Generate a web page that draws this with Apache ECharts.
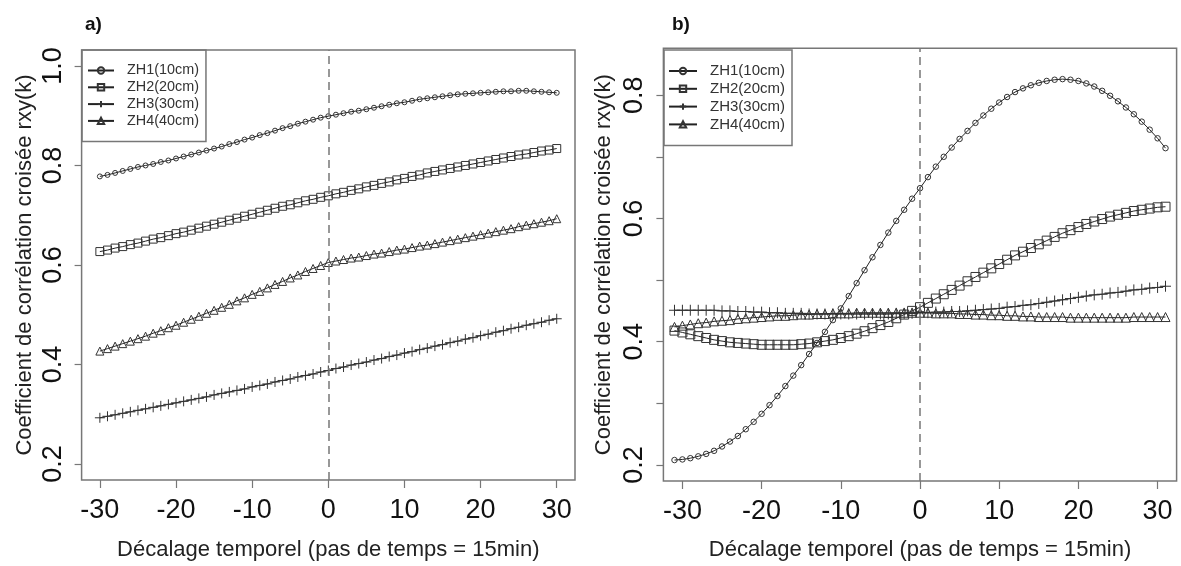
<!DOCTYPE html>
<html>
<head>
<meta charset="utf-8">
<script src="https://cdn.jsdelivr.net/npm/echarts@6/dist/echarts.min.js"></script>
<style>
  html, body { margin: 0; padding: 0; background: #fff; }
  #box { width: 1181px; height: 566px; }
</style>
</head>
<body>
<div id="box"></div>
<script>
// lags (pas de temps de 15 min)
var lagsA = [];
for (var i = -30; i <= 30; i++) lagsA.push(i);
var lagsB = [];
for (var j = -31; j <= 31; j++) lagsB.push(j);

var names = ['ZH1(10cm)', 'ZH2(20cm)', 'ZH3(30cm)', 'ZH4(40cm)'];

// panel a) : k = -30 .. 30
var zh1a = [0.778,0.781,0.785,0.789,0.793,0.797,0.800,0.803,0.807,0.810,0.814,0.818,0.822,0.826,0.830,0.834,0.838,0.843,0.847,0.852,0.856,0.861,0.865,0.870,0.875,0.879,0.884,0.888,0.892,0.896,0.899,
            0.902,0.905,0.908,0.910,0.913,0.916,0.919,0.922,0.925,0.927,0.930,0.933,0.935,0.937,0.939,0.941,0.943,0.944,0.945,0.946,0.947,0.948,0.949,0.949,0.950,0.950,0.949,0.948,0.947,0.946];
var zh2a = [0.627,0.630,0.634,0.637,0.641,0.644,0.648,0.652,0.655,0.659,0.663,0.666,0.670,0.674,0.678,0.682,0.686,0.690,0.694,0.698,0.702,0.706,0.710,0.714,0.718,0.721,0.725,0.729,0.732,0.736,0.739,
            0.743,0.746,0.750,0.753,0.757,0.760,0.764,0.767,0.771,0.774,0.778,0.781,0.785,0.788,0.791,0.794,0.797,0.800,0.803,0.806,0.809,0.812,0.815,0.818,0.821,0.823,0.826,0.829,0.831,0.834];
var zh3a = [0.293,0.296,0.299,0.302,0.305,0.308,0.311,0.314,0.317,0.320,0.323,0.326,0.329,0.332,0.335,0.339,0.342,0.345,0.348,0.351,0.355,0.358,0.361,0.365,0.368,0.371,0.375,0.378,0.381,0.385,0.388,
            0.392,0.395,0.399,0.402,0.405,0.409,0.412,0.416,0.419,0.423,0.426,0.430,0.433,0.437,0.440,0.444,0.447,0.451,0.454,0.458,0.461,0.465,0.468,0.472,0.475,0.479,0.482,0.485,0.489,0.492];
var zh4a = [0.427,0.432,0.437,0.442,0.447,0.452,0.457,0.463,0.468,0.474,0.479,0.485,0.491,0.497,0.503,0.509,0.515,0.521,0.528,0.534,0.541,0.547,0.554,0.561,0.567,0.574,0.580,0.587,0.593,0.599,0.605,
            0.608,0.611,0.614,0.616,0.619,0.622,0.624,0.627,0.630,0.632,0.635,0.638,0.640,0.643,0.646,0.649,0.652,0.655,0.658,0.661,0.664,0.667,0.670,0.673,0.677,0.680,0.683,0.686,0.689,0.693];

// panel b) : k = -31 .. 31
var zh1b = [0.208,0.209,0.211,0.214,0.218,0.223,0.230,0.238,0.247,0.258,0.270,0.283,0.297,0.312,0.328,0.345,0.362,0.380,0.398,0.416,0.435,0.454,0.474,0.495,0.516,0.537,0.557,0.577,0.596,0.614,0.632,0.649,
            0.667,0.684,0.700,0.715,0.729,0.742,0.755,0.767,0.778,0.788,0.797,0.805,0.811,0.816,0.820,0.823,0.825,0.826,0.825,0.823,0.819,0.814,0.807,0.799,0.790,0.780,0.769,0.757,0.744,0.730,0.714];
var zh2b = [0.418,0.415,0.412,0.409,0.406,0.403,0.401,0.399,0.398,0.397,0.396,0.395,0.395,0.395,0.395,0.395,0.396,0.397,0.399,0.401,0.403,0.406,0.409,0.413,0.417,0.422,0.427,0.432,0.438,0.444,0.450,0.456,
            0.463,0.470,0.477,0.484,0.491,0.498,0.505,0.512,0.519,0.526,0.533,0.540,0.546,0.552,0.558,0.564,0.570,0.576,0.581,0.586,0.591,0.595,0.599,0.603,0.606,0.609,0.612,0.614,0.616,0.618,0.619];
var zh3b = [0.451,0.451,0.451,0.451,0.451,0.451,0.450,0.450,0.449,0.449,0.448,0.448,0.447,0.447,0.446,0.446,0.446,0.445,0.445,0.445,0.445,0.445,0.445,0.445,0.445,0.445,0.445,0.445,0.446,0.446,0.446,0.447,
            0.447,0.448,0.448,0.449,0.449,0.450,0.451,0.452,0.453,0.454,0.456,0.457,0.459,0.460,0.462,0.464,0.466,0.468,0.470,0.472,0.474,0.476,0.477,0.479,0.480,0.482,0.484,0.485,0.487,0.488,0.490];
var zh4b = [0.424,0.426,0.428,0.430,0.431,0.433,0.434,0.435,0.437,0.438,0.439,0.440,0.441,0.442,0.442,0.443,0.444,0.444,0.445,0.445,0.446,0.446,0.446,0.447,0.447,0.447,0.447,0.447,0.447,0.447,0.447,0.447,
            0.447,0.446,0.446,0.446,0.445,0.445,0.444,0.444,0.443,0.443,0.442,0.442,0.441,0.441,0.440,0.440,0.440,0.440,0.439,0.439,0.439,0.439,0.439,0.439,0.439,0.439,0.440,0.440,0.440,0.440,0.440];

// ticks
var xTicks = [-30, -20, -10, 0, 10, 20, 30];
var yTicksA = [0.2, 0.4, 0.6, 0.8, 1.0];
var yTicksB = [0.2, 0.3, 0.4, 0.5, 0.6, 0.7, 0.8];
var yLabelsB = [0.2, 0.4, 0.6, 0.8];

var font = 'Liberation Sans, Arial, sans-serif';
var plusPath = 'path://M5,0L5,10M0,5L10,5';

function pairs(xs, ys) {
    return xs.map(function (x, i) { return [x, ys[i]]; });
}

function mkSeries(name, lags, vals, idx, sym, size, withLine) {
    var s = {
        name: name,
        type: 'line',
        xAxisIndex: idx,
        yAxisIndex: idx,
        data: pairs(lags, vals),
        symbol: sym,
        symbolSize: size,
        showSymbol: true,
        lineStyle: { color: '#222', width: 1 },
        itemStyle: { color: 'transparent', borderColor: '#333', borderWidth: 1 },
        emphasis: { disabled: true },
        z: 3
    };
    if (withLine) {
        s.markLine = {
            silent: true,
            symbol: ['none', 'none'],
            label: { show: false },
            lineStyle: { color: '#777', type: [8, 5], width: 1.5 },
            data: [{ xAxis: 0 }]
        };
    }
    return s;
}

function xAxisOf(idx, gap) {
    return {
        type: 'value', gridIndex: idx, min: -32.4, max: 32.4,
        name: 'Décalage temporel (pas de temps = 15min)',
        nameLocation: 'middle', nameGap: gap,
        nameTextStyle: { fontSize: 22, color: '#222', fontFamily: font },
        axisLine: { show: false, onZero: false },
        axisTick: { show: true, length: 8, customValues: xTicks, lineStyle: { color: '#777', width: 1.2 } },
        axisLabel: { customValues: xTicks, fontSize: 27, margin: 17, color: '#111', fontFamily: font },
        splitLine: { show: false }
    };
}

function yAxisOf(idx, min, max, ticks, labels, gap) {
    return {
        type: 'value', gridIndex: idx, min: min, max: max, position: 'left',
        name: 'Coefficient de corrélation croisée rxy(k)',
        nameLocation: 'middle', nameGap: gap, nameRotate: 90,
        nameTextStyle: { fontSize: 22, color: '#222', fontFamily: font },
        axisLine: { show: false, onZero: false },
        axisTick: { show: true, length: 7, customValues: ticks, lineStyle: { color: '#777', width: 1.2 } },
        axisLabel: {
            customValues: labels, rotate: 90, fontSize: 27, margin: 15, color: '#111', fontFamily: font,
            formatter: function (v) { return v.toFixed(1); }
        },
        splitLine: { show: false }
    };
}

function legendOf(left, top, iw, fs, pad) {
    return {
        data: names, orient: 'vertical', left: left, top: top,
        itemWidth: iw, itemHeight: 8, itemGap: 2.8,
        padding: pad, borderColor: '#777', borderWidth: 1.5,
        selectedMode: false,
        textStyle: { fontSize: fs, color: '#333', fontFamily: font, padding: [0, 0, 0, 8] }
    };
}

var chart = echarts.init(document.getElementById('box'));
var option = {
    animation: false,
    backgroundColor: '#fff',
    title: [
        { text: 'a)', left: 85, top: 15, padding: 0, textStyle: { fontSize: 19, fontWeight: 'bold', color: '#111', fontFamily: font } },
        { text: 'b)', left: 672, top: 15, padding: 0, textStyle: { fontSize: 19, fontWeight: 'bold', color: '#111', fontFamily: font } }
    ],
    legend: [
        legendOf(82, 50, 26, 14.4, [13.5, 7, 13.5, 5]),
        legendOf(664, 50, 28, 15, [13.5, 7, 13.5, 4])
    ],
    grid: [
        { left: 81.6, top: 50, width: 493.4, height: 440, show: true, borderColor: '#777', borderWidth: 1.5 },
        { left: 663.4, top: 48.3, width: 513.2, height: 445, show: true, borderColor: '#777', borderWidth: 1.5 }
    ],
    xAxis: [xAxisOf(0, 59), xAxisOf(1, 58)],
    yAxis: [
        yAxisOf(0, 0.168, 1.032, yTicksA, yTicksA, 46),
        yAxisOf(1, 0.174, 0.876, yTicksB, yLabelsB, 48)
    ],
    series: [
        mkSeries(names[0], lagsA, zh1a, 0, 'circle', 5, true),
        mkSeries(names[1], lagsA, zh2a, 0, 'rect', 8, false),
        mkSeries(names[2], lagsA, zh3a, 0, plusPath, 10, false),
        mkSeries(names[3], lagsA, zh4a, 0, 'triangle', 8, false),
        mkSeries(names[0], lagsB, zh1b, 1, 'circle', 5.5, true),
        mkSeries(names[1], lagsB, zh2b, 1, 'rect', 9, false),
        mkSeries(names[2], lagsB, zh3b, 1, plusPath, 11, false),
        mkSeries(names[3], lagsB, zh4b, 1, 'triangle', 9, false)
    ]
};
chart.setOption(option);
</script>
</body>
</html>
